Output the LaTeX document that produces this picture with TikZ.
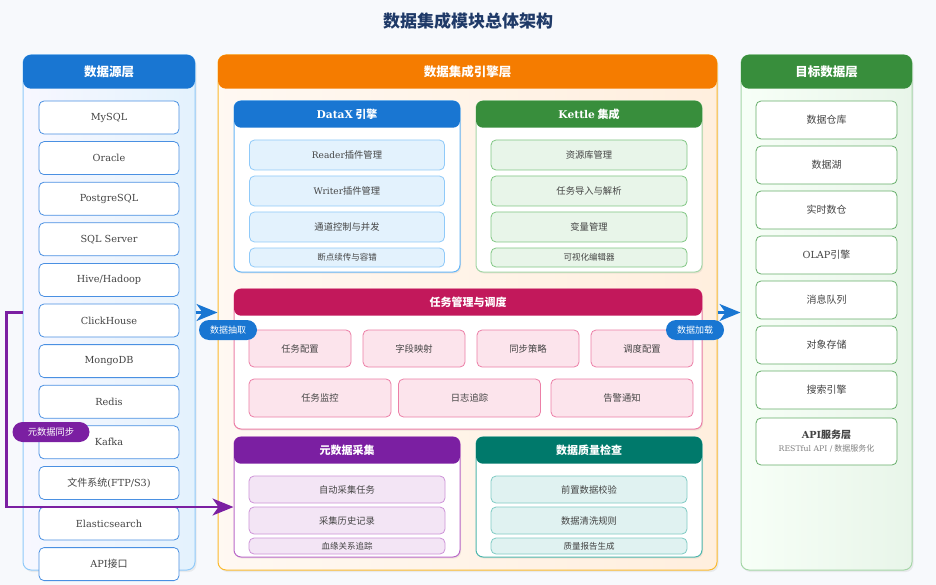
\documentclass[tikz,border=0pt]{standalone}
\usepackage{fontspec}
\setmainfont{Noto Sans CJK SC}
\newfontfamily\lat{DejaVu Serif}[Scale=0.97]
\usepackage{xcolor}
\usepackage{tikz}
\usetikzlibrary{arrows.meta,positioning,shadows}

\definecolor{bgc}{HTML}{F7F9FC}
\definecolor{titlec}{HTML}{1F3A68}
\definecolor{textc}{HTML}{444444}
\definecolor{blueh}{HTML}{1976D2}
\definecolor{bluel}{HTML}{90CAF9}
\definecolor{bluem}{HTML}{64B5F6}
\definecolor{bluef}{HTML}{E3F2FD}
\definecolor{blued}{HTML}{4A90E2}
\definecolor{orangeh}{HTML}{F57C00}
\definecolor{goldl}{HTML}{FBBA2E}
\definecolor{greenh}{HTML}{388E3C}
\definecolor{greenl}{HTML}{A5D6A7}
\definecolor{greenm}{HTML}{81C784}
\definecolor{greenf}{HTML}{E8F5E9}
\definecolor{greend}{HTML}{66AE6A}
\definecolor{pinkh}{HTML}{C2185B}
\definecolor{pinkl}{HTML}{EC7FA7}
\definecolor{pinkf}{HTML}{FCE4EC}
\definecolor{purph}{HTML}{7B1FA2}
\definecolor{purpl}{HTML}{BA68C8}
\definecolor{purpm}{HTML}{CE93D8}
\definecolor{purpf}{HTML}{F3E5F5}
\definecolor{tealh}{HTML}{00796B}
\definecolor{teall}{HTML}{4DB6AC}
\definecolor{tealm}{HTML}{80CBC4}
\definecolor{tealf}{HTML}{E0F2F1}

\begin{document}
\begin{tikzpicture}[x=1pt, y=-1pt, font=\fontsize{9.3}{11}\selectfont,
  col/.style={draw=#1, line width=1pt, rounded corners=8pt, minimum height=515pt, inner sep=0pt,
    drop shadow={opacity=0.12, shadow xshift=1.5pt, shadow yshift=-2pt}},
  colhead/.style={fill=#1, rounded corners=8pt, minimum height=34pt, anchor=north, text=white,
    font=\bfseries\fontsize{12.5}{14}\selectfont},
  box/.style={draw=#1, fill=white, line width=1pt, rounded corners=7pt, inner sep=0pt,
    drop shadow={opacity=0.12, shadow xshift=1pt, shadow yshift=-1.5pt}},
  boxhead/.style={fill=#1, rounded corners=7pt, minimum height=27pt, anchor=north, text=white,
    font=\bfseries\fontsize{11}{13}\selectfont},
  item/.style 2 args={draw=#1, fill=#2, line width=0.8pt, rounded corners=5pt, inner sep=0pt, text=textc},
  pill/.style={fill=#1, rounded corners=10pt, minimum height=20pt, inner sep=0pt, text=white,
    font=\fontsize{9}{10}\selectfont},
  flow/.style={draw=#1, line width=2.2pt, -{Stealth[length=21pt, width=17pt, inset=6pt]}}]

% background
\fill[bgc] (0,0) rectangle (936,585);
\node[text=titlec, font=\bfseries\fontsize{17}{20}\selectfont] (title) at (468,21) {数据集成模块总体架构};

% three layers
\node[col=bluel, left color=blue!3, right color=bluef, minimum width=172pt] (src) at (109,312.5) {};
\node[col=goldl, left color=orange!5, right color=orange!13, minimum width=499pt] (eng) at (467.5,312.5) {};
\node[col=greenl, left color=green!3, right color=greenf, minimum width=171pt] (tgt) at (826.5,312.5) {};
\node[colhead=blueh, minimum width=172pt] (srchead) at (src.north) {数据源层};
\node[colhead=orangeh, minimum width=499pt] (enghead) at (eng.north) {数据集成引擎层};
\node[colhead=greenh, minimum width=171pt] (tgthead) at (tgt.north) {目标数据层};

% sources
\foreach \i/\txt in {0/MySQL, 1/Oracle, 2/PostgreSQL, 3/SQL Server, 4/{Hive/Hadoop}, 5/ClickHouse,
    6/MongoDB, 7/Redis, 8/Kafka, 9/{{\rmfamily 文件系统}(FTP/S3)}, 10/Elasticsearch, 11/{API{\rmfamily 接口}}}{
  \node[item={blued}{white}, minimum width=140pt, minimum height=33pt,
    font=\lat\fontsize{10}{12}\selectfont] (src\i) at (109,117.5+40.6*\i) {\txt};
}

% targets
\foreach \i/\txt in {0/数据仓库, 1/数据湖, 2/实时数仓, 3/{{\lat OLAP}引擎}, 4/消息队列, 5/对象存储, 6/搜索引擎}{
  \node[item={greend}{white}, minimum width=141pt, minimum height=38pt,
    font=\fontsize{10}{12}\selectfont] (tgt\i) at (826.5,120+45*\i) {\txt};
}
\node[item={greend}{white}, minimum width=141pt, minimum height=47pt, align=center,
  font=\fontsize{10}{12}\selectfont] (tgt7) at (826.5,441.5)
  {{\bfseries\lat API}{\bfseries 服务层}\\[1pt]{\color{gray}\fontsize{8}{9}\selectfont{\lat RESTful API /} 数据服务化}};

% DataX / Kettle
\node[box=bluem, minimum width=226pt, minimum height=171pt] (datax) at (347,186.5) {};
\node[boxhead=blueh, minimum width=226pt] (dataxhead) at (datax.north) {{\lat DataX} 引擎};
\node[box=greenl, minimum width=226pt, minimum height=171pt] (kettle) at (589,186.5) {};
\node[boxhead=greenh, minimum width=226pt] (kettlehead) at (kettle.north) {{\lat Kettle} 集成};
\foreach \y/\a/\b in {155/{{\lat Reader}插件管理}/资源库管理, 191/{{\lat Writer}插件管理}/任务导入与解析, 227/通道控制与并发/变量管理}{
  \node[item={bluel}{bluef}, minimum width=195pt, minimum height=30pt] (dx\y) at (347,\y) {\a};
  \node[item={greenm}{greenf}, minimum width=196pt, minimum height=30pt] (kt\y) at (589,\y) {\b};
}
\node[item={bluel}{bluef}, minimum width=195pt, minimum height=19pt, font=\fontsize{8.5}{10}\selectfont] (dxlast) at (347,257.5) {断点续传与容错};
\node[item={greenm}{greenf}, minimum width=196pt, minimum height=19pt, font=\fontsize{8.5}{10}\selectfont] (ktlast) at (589,257.5) {可视化编辑器};

% task management
\node[box=pinkl, minimum width=468pt, minimum height=140pt] (task) at (468,359) {};
\node[boxhead=pinkh, minimum width=468pt] (taskhead) at (task.north) {任务管理与调度};
\foreach \x/\txt in {300/任务配置, 414/字段映射, 528/同步策略, 642/调度配置}{
  \node[item={pinkl}{pinkf}, minimum width=102pt, minimum height=37pt] (tk\x) at (\x,348.5) {\txt};
}
\foreach \x/\txt in {320/任务监控, 469.5/日志追踪, 622/告警通知}{
  \node[item={pinkl}{pinkf}, minimum width=142pt, minimum height=38pt] (tm\x) at (\x,398) {\txt};
}

% metadata / quality
\node[box=purpl, minimum width=226pt, minimum height=120pt] (meta) at (347,497) {};
\node[boxhead=purph, minimum width=226pt] (metahead) at (meta.north) {元数据采集};
\node[box=teall, minimum width=226pt, minimum height=120pt] (qual) at (589,497) {};
\node[boxhead=tealh, minimum width=226pt] (qualhead) at (qual.north) {数据质量检查};
\foreach \y/\a/\b in {489.5/自动采集任务/前置数据校验, 520.5/采集历史记录/数据清洗规则}{
  \node[item={purpm}{purpf}, minimum width=196pt, minimum height=27pt] (mt\y) at (347,\y) {\a};
  \node[item={tealm}{tealf}, minimum width=196pt, minimum height=27pt] (ql\y) at (589,\y) {\b};
}
\node[item={purpm}{purpf}, minimum width=196pt, minimum height=16pt, font=\fontsize{8.5}{10}\selectfont] (mtlast) at (347,546) {血缘关系追踪};
\node[item={tealm}{tealf}, minimum width=196pt, minimum height=16pt, font=\fontsize{8.5}{10}\selectfont] (qllast) at (589,546) {质量报告生成};

% flows
\coordinate (mdst) at ([yshift=-10pt]meta.west);
\draw[flow=blueh] (src.east) -- (eng.west);
\draw[flow=blueh] (eng.east) -- (tgt.west);
\draw[flow=purph] (src.west) -- ++(-16,0) |- (mdst);
\node[pill=blueh, minimum width=58pt] (extract) at (228,330) {数据抽取};
\node[pill=blueh, minimum width=58pt] (load) at (695,330) {数据加载};
\node[pill=purph, minimum width=77pt, font=\fontsize{9.3}{10}\selectfont] (sync) at (51,432) {元数据同步};
\end{tikzpicture}
\end{document}
